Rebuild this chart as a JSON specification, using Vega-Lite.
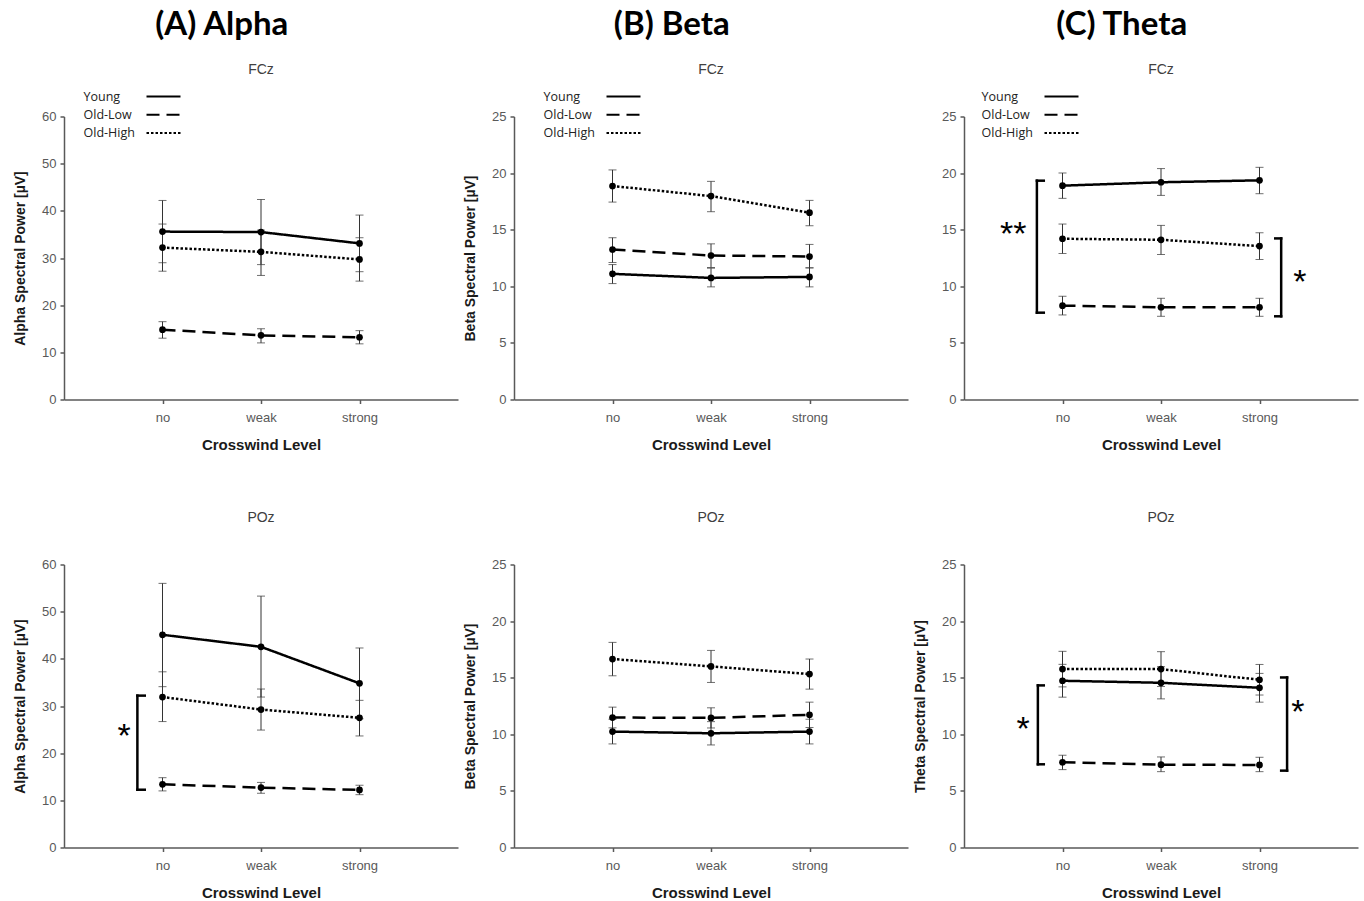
{
"$schema": "https://vega.github.io/schema/vega-lite/v6.json",
"background": "white",
"padding": {"left": 13, "top": 8.5, "right": 5, "bottom": 3},
"datasets": {
"means": [
{"band":"Alpha","site":"FCz","group":"Young","level":"no","mean":35.6,"lo":29.0,"hi":42.2},
{"band":"Alpha","site":"FCz","group":"Young","level":"weak","mean":35.5,"lo":28.6,"hi":42.4},
{"band":"Alpha","site":"FCz","group":"Young","level":"strong","mean":33.1,"lo":27.1,"hi":39.1},
{"band":"Alpha","site":"FCz","group":"Old-Low","level":"no","mean":14.8,"lo":13.0,"hi":16.5},
{"band":"Alpha","site":"FCz","group":"Old-Low","level":"weak","mean":13.6,"lo":12.0,"hi":15.0},
{"band":"Alpha","site":"FCz","group":"Old-Low","level":"strong","mean":13.2,"lo":11.8,"hi":14.6},
{"band":"Alpha","site":"FCz","group":"Old-High","level":"no","mean":32.2,"lo":27.2,"hi":37.2},
{"band":"Alpha","site":"FCz","group":"Old-High","level":"weak","mean":31.3,"lo":26.3,"hi":35.9},
{"band":"Alpha","site":"FCz","group":"Old-High","level":"strong","mean":29.7,"lo":25.1,"hi":34.3},
{"band":"Beta","site":"FCz","group":"Young","level":"no","mean":11.1,"lo":10.24,"hi":11.92},
{"band":"Beta","site":"FCz","group":"Young","level":"weak","mean":10.74,"lo":9.95,"hi":11.6},
{"band":"Beta","site":"FCz","group":"Young","level":"strong","mean":10.83,"lo":9.95,"hi":11.63},
{"band":"Beta","site":"FCz","group":"Old-Low","level":"no","mean":13.25,"lo":12.1,"hi":14.29},
{"band":"Beta","site":"FCz","group":"Old-Low","level":"weak","mean":12.72,"lo":11.66,"hi":13.75},
{"band":"Beta","site":"FCz","group":"Old-Low","level":"strong","mean":12.63,"lo":11.63,"hi":13.7},
{"band":"Beta","site":"FCz","group":"Old-High","level":"no","mean":18.86,"lo":17.44,"hi":20.28},
{"band":"Beta","site":"FCz","group":"Old-High","level":"weak","mean":17.97,"lo":16.59,"hi":19.27},
{"band":"Beta","site":"FCz","group":"Old-High","level":"strong","mean":16.5,"lo":15.35,"hi":17.59},
{"band":"Theta","site":"FCz","group":"Young","level":"no","mean":18.89,"lo":17.77,"hi":20.01},
{"band":"Theta","site":"FCz","group":"Young","level":"weak","mean":19.19,"lo":18.03,"hi":20.4},
{"band":"Theta","site":"FCz","group":"Young","level":"strong","mean":19.36,"lo":18.18,"hi":20.51},
{"band":"Theta","site":"FCz","group":"Old-Low","level":"no","mean":8.29,"lo":7.47,"hi":9.12},
{"band":"Theta","site":"FCz","group":"Old-Low","level":"weak","mean":8.15,"lo":7.35,"hi":8.94},
{"band":"Theta","site":"FCz","group":"Old-Low","level":"strong","mean":8.15,"lo":7.35,"hi":8.94},
{"band":"Theta","site":"FCz","group":"Old-High","level":"no","mean":14.2,"lo":12.9,"hi":15.5},
{"band":"Theta","site":"FCz","group":"Old-High","level":"weak","mean":14.11,"lo":12.81,"hi":15.38},
{"band":"Theta","site":"FCz","group":"Old-High","level":"strong","mean":13.55,"lo":12.37,"hi":14.73},
{"band":"Alpha","site":"POz","group":"Young","level":"no","mean":45.1,"lo":34.1,"hi":56.0},
{"band":"Alpha","site":"POz","group":"Young","level":"weak","mean":42.55,"lo":31.9,"hi":53.3},
{"band":"Alpha","site":"POz","group":"Young","level":"strong","mean":34.8,"lo":27.3,"hi":42.3},
{"band":"Alpha","site":"POz","group":"Old-Low","level":"no","mean":13.4,"lo":12.0,"hi":14.8},
{"band":"Alpha","site":"POz","group":"Old-Low","level":"weak","mean":12.7,"lo":11.5,"hi":13.8},
{"band":"Alpha","site":"POz","group":"Old-Low","level":"strong","mean":12.2,"lo":11.2,"hi":13.2},
{"band":"Alpha","site":"POz","group":"Old-High","level":"no","mean":31.9,"lo":26.7,"hi":37.25},
{"band":"Alpha","site":"POz","group":"Old-High","level":"weak","mean":29.25,"lo":24.9,"hi":33.6},
{"band":"Alpha","site":"POz","group":"Old-High","level":"strong","mean":27.5,"lo":23.65,"hi":31.2},
{"band":"Beta","site":"POz","group":"Young","level":"no","mean":10.24,"lo":9.15,"hi":11.33},
{"band":"Beta","site":"POz","group":"Young","level":"weak","mean":10.09,"lo":9.06,"hi":11.12},
{"band":"Beta","site":"POz","group":"Young","level":"strong","mean":10.24,"lo":9.15,"hi":11.33},
{"band":"Beta","site":"POz","group":"Old-Low","level":"no","mean":11.48,"lo":10.57,"hi":12.4},
{"band":"Beta","site":"POz","group":"Old-Low","level":"weak","mean":11.45,"lo":10.56,"hi":12.34},
{"band":"Beta","site":"POz","group":"Old-Low","level":"strong","mean":11.72,"lo":10.6,"hi":12.84},
{"band":"Beta","site":"POz","group":"Old-High","level":"no","mean":16.65,"lo":15.17,"hi":18.12},
{"band":"Beta","site":"POz","group":"Old-High","level":"weak","mean":16.0,"lo":14.58,"hi":17.41},
{"band":"Beta","site":"POz","group":"Old-High","level":"strong","mean":15.32,"lo":13.99,"hi":16.65},
{"band":"Theta","site":"POz","group":"Young","level":"no","mean":14.73,"lo":13.28,"hi":16.18},
{"band":"Theta","site":"POz","group":"Young","level":"weak","mean":14.55,"lo":13.13,"hi":15.97},
{"band":"Theta","site":"POz","group":"Young","level":"strong","mean":14.11,"lo":12.84,"hi":15.38},
{"band":"Theta","site":"POz","group":"Old-Low","level":"no","mean":7.53,"lo":6.88,"hi":8.15},
{"band":"Theta","site":"POz","group":"Old-Low","level":"weak","mean":7.32,"lo":6.7,"hi":8.0},
{"band":"Theta","site":"POz","group":"Old-Low","level":"strong","mean":7.29,"lo":6.7,"hi":7.97},
{"band":"Theta","site":"POz","group":"Old-High","level":"no","mean":15.76,"lo":14.19,"hi":17.33},
{"band":"Theta","site":"POz","group":"Old-High","level":"weak","mean":15.76,"lo":14.22,"hi":17.3},
{"band":"Theta","site":"POz","group":"Old-High","level":"strong","mean":14.82,"lo":13.47,"hi":16.17}
],
"brackets": [
{"band":"Theta","site":"FCz","x":0.74,"tip":0.81,"top":19.33,"bottom":7.67,"sx":0.5,"sy":15.05,"label":"**"},
{"band":"Theta","site":"FCz","x":3.22,"tip":3.16,"top":14.23,"bottom":7.35,"sx":3.41,"sy":10.83,"label":"*"},
{"band":"Alpha","site":"POz","x":0.745,"tip":0.82,"top":32.2,"bottom":12.25,"sx":0.61,"sy":24.6,"label":"*"},
{"band":"Theta","site":"POz","x":0.75,"tip":0.81,"top":14.32,"bottom":7.35,"sx":0.6,"sy":10.92,"label":"*"},
{"band":"Theta","site":"POz","x":3.28,"tip":3.22,"top":15.02,"bottom":6.79,"sx":3.39,"sy":12.4,"label":"*"}
]
},
"spacing": 5,
"resolve": {"scale": {"strokeDash": "independent"}},
"hconcat": [
{
"title": {"text": "(A) Alpha", "font": "Lato", "fontSize": 33, "fontWeight": "bold", "color": "black", "anchor": "middle", "frame": "bounds", "dx": -14, "offset": 21.5},
"spacing": 165, "bounds": "flush",
"resolve": {"scale": {"strokeDash": "independent"}},
"vconcat": [
{
"width": 394, "height": 283,
"title": {"text": "FCz", "font": "Liberation Sans", "fontSize": 14, "fontWeight": "normal", "color": "#404040", "anchor": "middle", "offset": 10},
"data": {"name": "means"},
"transform": [{"filter": "datum.band == 'Alpha' && datum.site == 'FCz'"}],
"encoding": {
"x": {"field": "level", "type": "ordinal", "sort": ["no","weak","strong"], "scale": {"type": "point", "padding": 1}, "axis": {"title": "Crosswind Level", "labelAngle": 0}},
"y": {"field": "mean", "type": "quantitative", "scale": {"domain": [0,60], "nice": false}, "axis": {"title": "Alpha Spectral Power [µV]", "values": [0,10,20,30,40,50,60]}}
},
"layer": [
{"mark": {"type": "rule", "color": "#333", "strokeWidth": 1}, "encoding": {"y": {"field": "lo", "type": "quantitative"}, "y2": {"field": "hi"}}},
{"mark": {"type": "tick", "orient": "horizontal", "size": 8, "thickness": 1, "color": "#333"}, "encoding": {"y": {"field": "lo", "type": "quantitative"}}},
{"mark": {"type": "tick", "orient": "horizontal", "size": 8, "thickness": 1, "color": "#333"}, "encoding": {"y": {"field": "hi", "type": "quantitative"}}},
{"mark": {"type": "line", "color": "black", "strokeWidth": 2.5}, "encoding": {"strokeDash": {"field": "group", "type": "nominal", "scale": {"domain": ["Young","Old-Low","Old-High"], "range": [[1,0],[13,7],[2.5,2]]}, "legend": {"orient": "none", "legendX": 90, "legendY": -29.5, "title": null, "labelOffset": -89.5, "labelAlign": "left", "symbolType": "M-2,0H2", "symbolSize": 289, "symbolStrokeWidth": 2, "symbolStrokeColor": "black", "symbolFillColor": "transparent", "rowPadding": 2.25, "labelFont": "Open Sans", "labelFontSize": 12.5, "labelColor": "#222", "padding": 0}}}},
{"mark": {"type": "point", "filled": true, "size": 45, "color": "black", "opacity": 1}}
]
},
{
"width": 394, "height": 283,
"title": {"text": "POz", "font": "Liberation Sans", "fontSize": 14, "fontWeight": "normal", "color": "#404040", "anchor": "middle", "offset": 34},
"resolve": {"scale": {"x": "independent"}},
"layer": [
{
"data": {"name": "means"},
"transform": [{"filter": "datum.band == 'Alpha' && datum.site == 'POz'"}],
"encoding": {
"x": {"field": "level", "type": "ordinal", "sort": ["no","weak","strong"], "scale": {"type": "point", "padding": 1}, "axis": {"title": "Crosswind Level", "labelAngle": 0}},
"y": {"field": "mean", "type": "quantitative", "scale": {"domain": [0,60], "nice": false}, "axis": {"title": "Alpha Spectral Power [µV]", "values": [0,10,20,30,40,50,60]}}
},
"layer": [
{"mark": {"type": "rule", "color": "#333", "strokeWidth": 1}, "encoding": {"y": {"field": "lo", "type": "quantitative"}, "y2": {"field": "hi"}}},
{"mark": {"type": "tick", "orient": "horizontal", "size": 8, "thickness": 1, "color": "#333"}, "encoding": {"y": {"field": "lo", "type": "quantitative"}}},
{"mark": {"type": "tick", "orient": "horizontal", "size": 8, "thickness": 1, "color": "#333"}, "encoding": {"y": {"field": "hi", "type": "quantitative"}}},
{"mark": {"type": "line", "color": "black", "strokeWidth": 2.5}, "encoding": {"strokeDash": {"field": "group", "type": "nominal", "scale": {"domain": ["Young","Old-Low","Old-High"], "range": [[1,0],[13,7],[2.5,2]]}, "legend": null}}},
{"mark": {"type": "point", "filled": true, "size": 45, "color": "black", "opacity": 1}}
]
},
{
"data": {"name": "brackets"},
"transform": [{"filter": "datum.band == 'Alpha' && datum.site == 'POz'"}],
"layer": [
{"mark": {"type": "rule", "color": "black", "strokeWidth": 2.5, "strokeCap": "square"}, "encoding": {"x": {"field": "x", "type": "quantitative", "scale": {"domain": [0,4], "nice": false, "zero": false}, "axis": null}, "y": {"field": "top", "type": "quantitative"}, "y2": {"field": "bottom"}}},
{"mark": {"type": "rule", "color": "black", "strokeWidth": 2.5, "strokeCap": "square"}, "encoding": {"x": {"field": "x", "type": "quantitative", "scale": {"domain": [0,4], "nice": false, "zero": false}, "axis": null}, "x2": {"field": "tip"}, "y": {"field": "top", "type": "quantitative"}}},
{"mark": {"type": "rule", "color": "black", "strokeWidth": 2.5, "strokeCap": "square"}, "encoding": {"x": {"field": "x", "type": "quantitative", "scale": {"domain": [0,4], "nice": false, "zero": false}, "axis": null}, "x2": {"field": "tip"}, "y": {"field": "bottom", "type": "quantitative"}}},
{"mark": {"type": "text", "fontSize": 34, "font": "Liberation Sans", "color": "black", "baseline": "middle", "align": "center", "dy": 6}, "encoding": {"x": {"field": "sx", "type": "quantitative", "scale": {"domain": [0,4], "nice": false, "zero": false}, "axis": null}, "y": {"field": "sy", "type": "quantitative"}, "text": {"field": "label"}}}
]
}
]
}
]
},
{
"title": {"text": "(B) Beta", "font": "Lato", "fontSize": 33, "fontWeight": "bold", "color": "black", "anchor": "middle", "frame": "bounds", "dx": -14, "offset": 21.5},
"spacing": 165, "bounds": "flush",
"resolve": {"scale": {"strokeDash": "independent"}},
"vconcat": [
{
"width": 394, "height": 283,
"title": {"text": "FCz", "font": "Liberation Sans", "fontSize": 14, "fontWeight": "normal", "color": "#404040", "anchor": "middle", "offset": 10},
"data": {"name": "means"},
"transform": [{"filter": "datum.band == 'Beta' && datum.site == 'FCz'"}],
"encoding": {
"x": {"field": "level", "type": "ordinal", "sort": ["no","weak","strong"], "scale": {"type": "point", "padding": 1}, "axis": {"title": "Crosswind Level", "labelAngle": 0}},
"y": {"field": "mean", "type": "quantitative", "scale": {"domain": [0,25], "nice": false}, "axis": {"title": "Beta Spectral Power [µV]", "values": [0,5,10,15,20,25]}}
},
"layer": [
{"mark": {"type": "rule", "color": "#333", "strokeWidth": 1}, "encoding": {"y": {"field": "lo", "type": "quantitative"}, "y2": {"field": "hi"}}},
{"mark": {"type": "tick", "orient": "horizontal", "size": 8, "thickness": 1, "color": "#333"}, "encoding": {"y": {"field": "lo", "type": "quantitative"}}},
{"mark": {"type": "tick", "orient": "horizontal", "size": 8, "thickness": 1, "color": "#333"}, "encoding": {"y": {"field": "hi", "type": "quantitative"}}},
{"mark": {"type": "line", "color": "black", "strokeWidth": 2.5}, "encoding": {"strokeDash": {"field": "group", "type": "nominal", "scale": {"domain": ["Young","Old-Low","Old-High"], "range": [[1,0],[13,7],[2.5,2]]}, "legend": {"orient": "none", "legendX": 100, "legendY": -29.5, "title": null, "labelOffset": -89.5, "labelAlign": "left", "symbolType": "M-2,0H2", "symbolSize": 289, "symbolStrokeWidth": 2, "symbolStrokeColor": "black", "symbolFillColor": "transparent", "rowPadding": 2.25, "labelFont": "Open Sans", "labelFontSize": 12.5, "labelColor": "#222", "padding": 0}}}},
{"mark": {"type": "point", "filled": true, "size": 45, "color": "black", "opacity": 1}}
]
},
{
"width": 394, "height": 283,
"title": {"text": "POz", "font": "Liberation Sans", "fontSize": 14, "fontWeight": "normal", "color": "#404040", "anchor": "middle", "offset": 34},
"data": {"name": "means"},
"transform": [{"filter": "datum.band == 'Beta' && datum.site == 'POz'"}],
"encoding": {
"x": {"field": "level", "type": "ordinal", "sort": ["no","weak","strong"], "scale": {"type": "point", "padding": 1}, "axis": {"title": "Crosswind Level", "labelAngle": 0}},
"y": {"field": "mean", "type": "quantitative", "scale": {"domain": [0,25], "nice": false}, "axis": {"title": "Beta Spectral Power [µV]", "values": [0,5,10,15,20,25]}}
},
"layer": [
{"mark": {"type": "rule", "color": "#333", "strokeWidth": 1}, "encoding": {"y": {"field": "lo", "type": "quantitative"}, "y2": {"field": "hi"}}},
{"mark": {"type": "tick", "orient": "horizontal", "size": 8, "thickness": 1, "color": "#333"}, "encoding": {"y": {"field": "lo", "type": "quantitative"}}},
{"mark": {"type": "tick", "orient": "horizontal", "size": 8, "thickness": 1, "color": "#333"}, "encoding": {"y": {"field": "hi", "type": "quantitative"}}},
{"mark": {"type": "line", "color": "black", "strokeWidth": 2.5}, "encoding": {"strokeDash": {"field": "group", "type": "nominal", "scale": {"domain": ["Young","Old-Low","Old-High"], "range": [[1,0],[13,7],[2.5,2]]}, "legend": null}}},
{"mark": {"type": "point", "filled": true, "size": 45, "color": "black", "opacity": 1}}
]
}
]
},
{
"title": {"text": "(C) Theta", "font": "Lato", "fontSize": 33, "fontWeight": "bold", "color": "black", "anchor": "middle", "frame": "bounds", "dx": -14, "offset": 21.5},
"spacing": 165, "bounds": "flush",
"resolve": {"scale": {"strokeDash": "independent"}},
"vconcat": [
{
"width": 394, "height": 283,
"title": {"text": "FCz", "font": "Liberation Sans", "fontSize": 14, "fontWeight": "normal", "color": "#404040", "anchor": "middle", "offset": 10},
"resolve": {"scale": {"x": "independent"}},
"layer": [
{
"data": {"name": "means"},
"transform": [{"filter": "datum.band == 'Theta' && datum.site == 'FCz'"}],
"encoding": {
"x": {"field": "level", "type": "ordinal", "sort": ["no","weak","strong"], "scale": {"type": "point", "padding": 1}, "axis": {"title": "Crosswind Level", "labelAngle": 0}},
"y": {"field": "mean", "type": "quantitative", "scale": {"domain": [0,25], "nice": false}, "axis": {"title": null, "values": [0,5,10,15,20,25]}}
},
"layer": [
{"mark": {"type": "rule", "color": "#333", "strokeWidth": 1}, "encoding": {"y": {"field": "lo", "type": "quantitative"}, "y2": {"field": "hi"}}},
{"mark": {"type": "tick", "orient": "horizontal", "size": 8, "thickness": 1, "color": "#333"}, "encoding": {"y": {"field": "lo", "type": "quantitative"}}},
{"mark": {"type": "tick", "orient": "horizontal", "size": 8, "thickness": 1, "color": "#333"}, "encoding": {"y": {"field": "hi", "type": "quantitative"}}},
{"mark": {"type": "line", "color": "black", "strokeWidth": 2.5}, "encoding": {"strokeDash": {"field": "group", "type": "nominal", "scale": {"domain": ["Young","Old-Low","Old-High"], "range": [[1,0],[13,7],[2.5,2]]}, "legend": {"orient": "none", "legendX": 88, "legendY": -29.5, "title": null, "labelOffset": -89.5, "labelAlign": "left", "symbolType": "M-2,0H2", "symbolSize": 289, "symbolStrokeWidth": 2, "symbolStrokeColor": "black", "symbolFillColor": "transparent", "rowPadding": 2.25, "labelFont": "Open Sans", "labelFontSize": 12.5, "labelColor": "#222", "padding": 0}}}},
{"mark": {"type": "point", "filled": true, "size": 45, "color": "black", "opacity": 1}}
]
},
{
"data": {"name": "brackets"},
"transform": [{"filter": "datum.band == 'Theta' && datum.site == 'FCz'"}],
"layer": [
{"mark": {"type": "rule", "color": "black", "strokeWidth": 2.5, "strokeCap": "square"}, "encoding": {"x": {"field": "x", "type": "quantitative", "scale": {"domain": [0,4], "nice": false, "zero": false}, "axis": null}, "y": {"field": "top", "type": "quantitative"}, "y2": {"field": "bottom"}}},
{"mark": {"type": "rule", "color": "black", "strokeWidth": 2.5, "strokeCap": "square"}, "encoding": {"x": {"field": "x", "type": "quantitative", "scale": {"domain": [0,4], "nice": false, "zero": false}, "axis": null}, "x2": {"field": "tip"}, "y": {"field": "top", "type": "quantitative"}}},
{"mark": {"type": "rule", "color": "black", "strokeWidth": 2.5, "strokeCap": "square"}, "encoding": {"x": {"field": "x", "type": "quantitative", "scale": {"domain": [0,4], "nice": false, "zero": false}, "axis": null}, "x2": {"field": "tip"}, "y": {"field": "bottom", "type": "quantitative"}}},
{"mark": {"type": "text", "fontSize": 34, "font": "Liberation Sans", "color": "black", "baseline": "middle", "align": "center", "dy": 6}, "encoding": {"x": {"field": "sx", "type": "quantitative", "scale": {"domain": [0,4], "nice": false, "zero": false}, "axis": null}, "y": {"field": "sy", "type": "quantitative"}, "text": {"field": "label"}}}
]
}
]
},
{
"width": 394, "height": 283,
"title": {"text": "POz", "font": "Liberation Sans", "fontSize": 14, "fontWeight": "normal", "color": "#404040", "anchor": "middle", "offset": 34},
"resolve": {"scale": {"x": "independent"}},
"layer": [
{
"data": {"name": "means"},
"transform": [{"filter": "datum.band == 'Theta' && datum.site == 'POz'"}],
"encoding": {
"x": {"field": "level", "type": "ordinal", "sort": ["no","weak","strong"], "scale": {"type": "point", "padding": 1}, "axis": {"title": "Crosswind Level", "labelAngle": 0}},
"y": {"field": "mean", "type": "quantitative", "scale": {"domain": [0,25], "nice": false}, "axis": {"title": "Theta Spectral Power [µV]", "values": [0,5,10,15,20,25]}}
},
"layer": [
{"mark": {"type": "rule", "color": "#333", "strokeWidth": 1}, "encoding": {"y": {"field": "lo", "type": "quantitative"}, "y2": {"field": "hi"}}},
{"mark": {"type": "tick", "orient": "horizontal", "size": 8, "thickness": 1, "color": "#333"}, "encoding": {"y": {"field": "lo", "type": "quantitative"}}},
{"mark": {"type": "tick", "orient": "horizontal", "size": 8, "thickness": 1, "color": "#333"}, "encoding": {"y": {"field": "hi", "type": "quantitative"}}},
{"mark": {"type": "line", "color": "black", "strokeWidth": 2.5}, "encoding": {"strokeDash": {"field": "group", "type": "nominal", "scale": {"domain": ["Young","Old-Low","Old-High"], "range": [[1,0],[13,7],[2.5,2]]}, "legend": null}}},
{"mark": {"type": "point", "filled": true, "size": 45, "color": "black", "opacity": 1}}
]
},
{
"data": {"name": "brackets"},
"transform": [{"filter": "datum.band == 'Theta' && datum.site == 'POz'"}],
"layer": [
{"mark": {"type": "rule", "color": "black", "strokeWidth": 2.5, "strokeCap": "square"}, "encoding": {"x": {"field": "x", "type": "quantitative", "scale": {"domain": [0,4], "nice": false, "zero": false}, "axis": null}, "y": {"field": "top", "type": "quantitative"}, "y2": {"field": "bottom"}}},
{"mark": {"type": "rule", "color": "black", "strokeWidth": 2.5, "strokeCap": "square"}, "encoding": {"x": {"field": "x", "type": "quantitative", "scale": {"domain": [0,4], "nice": false, "zero": false}, "axis": null}, "x2": {"field": "tip"}, "y": {"field": "top", "type": "quantitative"}}},
{"mark": {"type": "rule", "color": "black", "strokeWidth": 2.5, "strokeCap": "square"}, "encoding": {"x": {"field": "x", "type": "quantitative", "scale": {"domain": [0,4], "nice": false, "zero": false}, "axis": null}, "x2": {"field": "tip"}, "y": {"field": "bottom", "type": "quantitative"}}},
{"mark": {"type": "text", "fontSize": 34, "font": "Liberation Sans", "color": "black", "baseline": "middle", "align": "center", "dy": 6}, "encoding": {"x": {"field": "sx", "type": "quantitative", "scale": {"domain": [0,4], "nice": false, "zero": false}, "axis": null}, "y": {"field": "sy", "type": "quantitative"}, "text": {"field": "label"}}}
]
}
]
}
]
}
],
"config": {
"view": {"stroke": null},
"font": "Liberation Sans",
"axis": {"grid": false, "domainColor": "#595959", "domainWidth": 1.5, "tickColor": "#595959", "tickWidth": 1.5, "tickSize": 4, "labelColor": "#595959", "labelFont": "Liberation Sans", "labelFontSize": 13, "labelPadding": 4, "titleFont": "Liberation Sans", "titleFontSize": 14, "titleFontWeight": "bold", "titleColor": "#1a1a1a"},
"axisX": {"labelPadding": 8, "titlePadding": 13, "titleFontSize": 15},
"axisY": {"titlePadding": 14}
}
}
